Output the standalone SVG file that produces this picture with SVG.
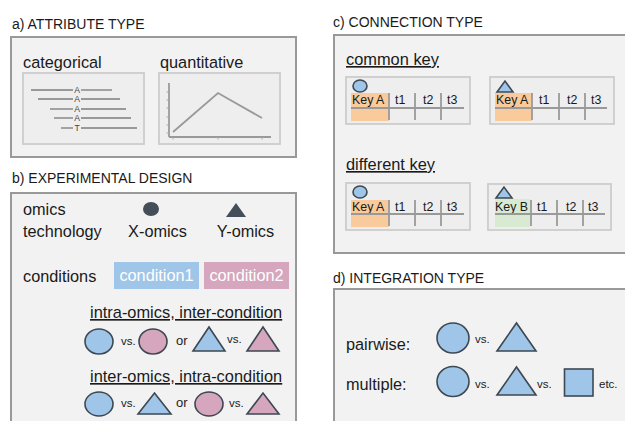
<svg xmlns="http://www.w3.org/2000/svg" width="625" height="421" viewBox="0 0 625 421">
  <style>
    text { font-family: "Liberation Sans", Arial, sans-serif; fill: #1a1a1a; }
    .title { font-size: 14px; }
    .lbl { font-size: 16.3px; }
    .ul { font-size: 16.4px; text-decoration: underline; }
    .vs { font-size: 11.5px; }
    .or { font-size: 13px; }
    .key { font-size: 12.4px; }
    .cat { font-size: 8.6px; fill: #444; text-anchor: middle; }
    .panel { fill: #f2f2f2; stroke: #999; stroke-width: 2; }
    .inner { fill: #eeeeee; stroke: #cccccc; stroke-width: 1.8; }
    .gl { stroke: #999; stroke-width: 1.8; fill: none; }
    .blue { fill: #9fc5e8; stroke: #3d4852; stroke-width: 1.6; }
    .pink { fill: #d5a6bd; stroke: #3d4852; stroke-width: 1.6; }
    .dark { fill: #434e58; }
    .cond { font-size: 16.3px; fill: #ffffff; }
  </style>
  <rect width="625" height="421" fill="#ffffff"/>

  <!-- a) attribute type -->
  <g id="panel-a">
    <text class="title" x="12" y="29">a) ATTRIBUTE TYPE</text>
    <rect class="panel" x="11" y="37" width="285" height="120"/>
    <g id="categorical">
      <text class="lbl" x="23" y="68">categorical</text>
      <rect class="inner" x="23" y="73" width="121" height="71"/>
      <g class="gl">
        <line x1="31" y1="90" x2="73" y2="90"/><line x1="81" y1="90" x2="112" y2="90"/>
        <line x1="38" y1="99" x2="73" y2="99"/><line x1="81" y1="99" x2="120" y2="99"/>
        <line x1="50" y1="109" x2="73" y2="109"/><line x1="81" y1="109" x2="126" y2="109"/>
        <line x1="54" y1="118" x2="73" y2="118"/><line x1="81" y1="118" x2="131" y2="118"/>
        <line x1="61" y1="128" x2="73" y2="128"/><line x1="81" y1="128" x2="137" y2="128"/>
      </g>
      <text class="cat" x="77" y="93.2">A</text>
      <text class="cat" x="77" y="102.2">A</text>
      <text class="cat" x="77" y="112.2">A</text>
      <text class="cat" x="77" y="121.2">A</text>
      <text class="cat" x="77" y="131.2">T</text>
    </g>
    <g id="quantitative">
      <text class="lbl" x="160" y="68">quantitative</text>
      <rect class="inner" x="159" y="73" width="121" height="71"/>
      <g class="gl">
        <line x1="169" y1="83" x2="169" y2="137"/>
        <line x1="169" y1="137" x2="271" y2="137"/>
        <polyline points="173,132 218,93 262,118"/>
      </g>
      <g stroke="#aaa" stroke-width="1">
        <line x1="166.5" y1="92" x2="169" y2="92"/><line x1="166.5" y1="100" x2="169" y2="100"/>
        <line x1="166.5" y1="108" x2="169" y2="108"/><line x1="166.5" y1="117" x2="169" y2="117"/>
        <line x1="166.5" y1="125" x2="169" y2="125"/><line x1="166.5" y1="133" x2="169" y2="133"/>
        <line x1="173" y1="137" x2="173" y2="139.5"/><line x1="218" y1="137" x2="218" y2="139.5"/>
        <line x1="262" y1="137" x2="262" y2="139.5"/>
      </g>
    </g>
  </g>

  <!-- b) experimental design -->
  <g id="panel-b">
    <text class="title" x="12" y="183">b) EXPERIMENTAL DESIGN</text>
    <rect class="panel" x="11" y="193" width="285" height="240"/>
    <g id="omics">
      <text class="lbl" x="23" y="215">omics</text>
      <text class="lbl" x="23" y="237">technology</text>
      <ellipse class="dark" cx="151" cy="209" rx="8" ry="7"/>
      <text class="lbl" x="157.5" y="237" text-anchor="middle">X-omics</text>
      <polygon class="dark" points="226,217 236,203 246,217"/>
      <text class="lbl" x="245.5" y="237" text-anchor="middle">Y-omics</text>
    </g>
    <g id="conditions">
      <text class="lbl" x="23" y="282">conditions</text>
      <rect x="114" y="262" width="85" height="27" fill="#9fc5e8"/>
      <text class="cond" x="156.5" y="281" text-anchor="middle">condition1</text>
      <rect x="204" y="262" width="85" height="27" fill="#d5a6bd"/>
      <text class="cond" x="246.5" y="281" text-anchor="middle">condition2</text>
    </g>
    <g id="intra-omics">
      <text class="ul" x="90" y="318">intra-omics, inter-condition</text>
      <ellipse class="blue" cx="99" cy="341.5" rx="14" ry="12.5"/>
      <text class="vs" x="121" y="345">vs.</text>
      <ellipse class="pink" cx="153" cy="341.5" rx="14" ry="12.5"/>
      <text class="or" x="176" y="345">or</text>
      <polygon class="blue" points="193,351 209,327 225,351"/>
      <text class="vs" x="227" y="343">vs.</text>
      <polygon class="pink" points="247,351 263,327 279,351"/>
    </g>
    <g id="inter-omics">
      <text class="ul" x="90" y="382">inter-omics, intra-condition</text>
      <ellipse class="blue" cx="99" cy="404" rx="14" ry="12"/>
      <text class="vs" x="121" y="407">vs.</text>
      <polygon class="blue" points="138,414 154.5,393 171,414"/>
      <text class="or" x="176" y="407">or</text>
      <ellipse class="pink" cx="209" cy="404" rx="14" ry="12"/>
      <text class="vs" x="229" y="407">vs.</text>
      <polygon class="pink" points="247,414 263,393 279,414"/>
    </g>
  </g>

  <!-- c) connection type -->
  <g id="panel-c">
    <text class="title" x="333" y="27">c) CONNECTION TYPE</text>
    <rect class="panel" x="334" y="35" width="300" height="218"/>
    <text class="ul" x="346" y="65">common key</text>
    <text class="ul" x="346" y="170">different key</text>

    <g id="table-x-common">
      <rect class="inner" x="346" y="77" width="124" height="47"/>
      <ellipse class="blue" cx="360" cy="86" rx="7" ry="6"/>
      <rect x="351" y="93" width="38" height="28" fill="#f9cb9c"/>
      <text class="key" x="352" y="104">Key A</text>
      <g class="gl">
        <line x1="351" y1="108" x2="464" y2="108"/>
        <line x1="389" y1="93" x2="389" y2="120"/>
        <line x1="415" y1="93" x2="415" y2="120"/>
        <line x1="441" y1="93" x2="441" y2="120"/>
      </g>
      <text class="key" x="395" y="104">t1</text>
      <text class="key" x="423" y="104">t2</text>
      <text class="key" x="447" y="104">t3</text>
    </g>

    <g id="table-y-common">
      <rect class="inner" x="490" y="77" width="124" height="47"/>
      <polygon class="blue" points="497,92 505,81 513,92"/>
      <rect x="495" y="93" width="37" height="28" fill="#f9cb9c"/>
      <text class="key" x="496" y="104">Key A</text>
      <g class="gl">
        <line x1="495" y1="108" x2="607" y2="108"/>
        <line x1="532" y1="93" x2="532" y2="120"/>
        <line x1="559" y1="93" x2="559" y2="120"/>
        <line x1="585" y1="93" x2="585" y2="120"/>
      </g>
      <text class="key" x="539" y="104">t1</text>
      <text class="key" x="567" y="104">t2</text>
      <text class="key" x="591" y="104">t3</text>
    </g>

    <g id="table-x-different">
      <rect class="inner" x="346" y="183" width="124" height="47"/>
      <ellipse class="blue" cx="360" cy="192" rx="7" ry="6"/>
      <rect x="351" y="200" width="38" height="27" fill="#f9cb9c"/>
      <text class="key" x="352" y="211">Key A</text>
      <g class="gl">
        <line x1="351" y1="214" x2="464" y2="214"/>
        <line x1="389" y1="200" x2="389" y2="226"/>
        <line x1="415" y1="200" x2="415" y2="226"/>
        <line x1="441" y1="200" x2="441" y2="226"/>
      </g>
      <text class="key" x="395" y="211">t1</text>
      <text class="key" x="423" y="211">t2</text>
      <text class="key" x="447" y="211">t3</text>
    </g>

    <g id="table-y-different">
      <rect class="inner" x="488" y="184" width="123" height="46"/>
      <polygon class="blue" points="496,198 504,187 512,198"/>
      <rect x="495" y="199" width="35" height="28" fill="#d9ead3"/>
      <text class="key" x="495" y="211">Key B</text>
      <g class="gl">
        <line x1="495" y1="214" x2="605" y2="214"/>
        <line x1="531" y1="200" x2="531" y2="226"/>
        <line x1="557" y1="200" x2="557" y2="226"/>
        <line x1="583" y1="200" x2="583" y2="226"/>
      </g>
      <text class="key" x="537" y="211">t1</text>
      <text class="key" x="566" y="211">t2</text>
      <text class="key" x="588" y="211">t3</text>
    </g>
  </g>

  <!-- d) integration type -->
  <g id="panel-d">
    <text class="title" x="333" y="283">d) INTEGRATION TYPE</text>
    <rect class="panel" x="334" y="289" width="300" height="150"/>
    <g id="pairwise">
      <text class="lbl" x="346" y="350">pairwise:</text>
      <ellipse class="blue" cx="453" cy="338" rx="16" ry="15"/>
      <text class="vs" x="475" y="343">vs.</text>
      <polygon class="blue" points="497,351 516.5,323 536,351"/>
    </g>
    <g id="multiple">
      <text class="lbl" x="346" y="390">multiple:</text>
      <ellipse class="blue" cx="453" cy="381.5" rx="16" ry="15"/>
      <text class="vs" x="475" y="388">vs.</text>
      <polygon class="blue" points="497,395 516.5,367 536,395"/>
      <text class="vs" x="537" y="388">vs.</text>
      <rect class="blue" x="564.5" y="369" width="28.5" height="27"/>
      <text class="vs" x="599" y="388">etc.</text>
    </g>
  </g>
</svg>
